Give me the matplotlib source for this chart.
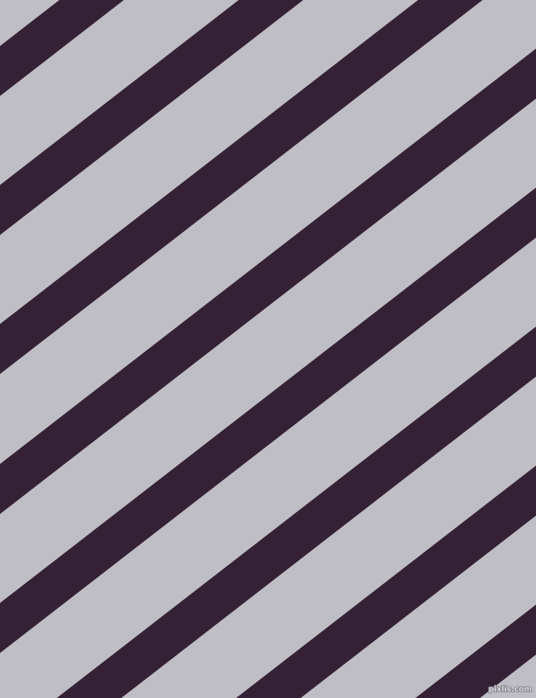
import numpy as np
import matplotlib
matplotlib.use("Agg")
import matplotlib.pyplot as plt
import matplotlib.patheffects as pe

# stripe data (pixel units, y measured downwards)
stripe_tops = [46, 185, 324, 464, 603, 742, 881, 1020]   # top edge of each stripe at x=0
stripe_width = 50            # vertical thickness of a dark stripe
slope = 0.775                # rise per pixel going right

bg_color = "#c0bec5"
stripe_color = "#352136"

W, H = 536, 698
fig = plt.figure(figsize=(W / 100, H / 100), dpi=100)
fig.patch.set_facecolor(bg_color)
ax = fig.add_axes([0, 0, 1, 1])
ax.set_facecolor(bg_color)

x = np.array([-20, W + 20])
for b in stripe_tops:
    top = b - slope * x
    bot = b + stripe_width - slope * x
    ax.fill_between(x, top, bot, color=stripe_color, lw=0)

ax.set_xlim(0, W)
ax.set_ylim(H, 0)
ax.axis("off")

# little watermark bottom right
ax.text(532, 689, "pixlis.com", fontsize=5.5, color="#d4d3d8",
        ha="right", va="center", fontweight="bold",
        path_effects=[pe.withStroke(linewidth=1.2, foreground="#8a8890")])

fig.savefig("out.png", dpi=100, facecolor=bg_color)
